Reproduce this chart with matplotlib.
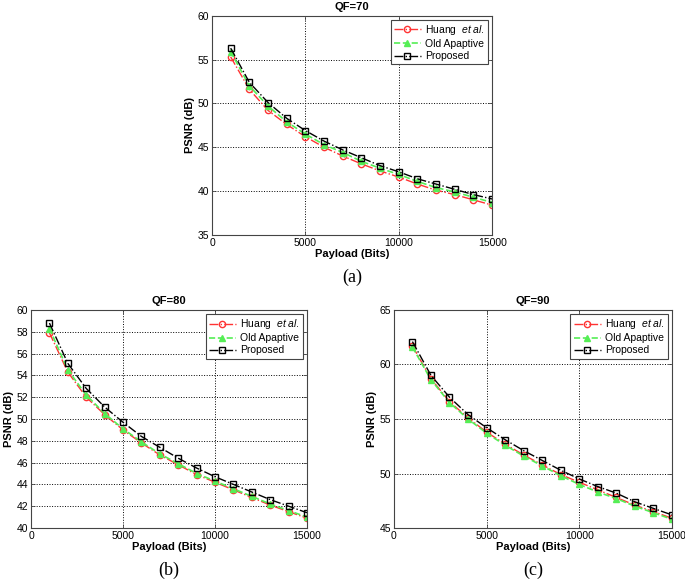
import matplotlib
matplotlib.use("Agg")
import matplotlib.pyplot as plt

plt.rcParams['font.family'] = ['Liberation Sans', 'DejaVu Sans']
plt.rcParams['mathtext.fontset'] = 'custom'
plt.rcParams['mathtext.it'] = 'Liberation Sans:italic'
plt.rcParams['mathtext.rm'] = 'Liberation Sans'

payload = [1000, 2000, 3000, 4000, 5000, 6000, 7000, 8000,
           9000, 10000, 11000, 12000, 13000, 14000, 15000]

# QF=70
huang_70 = [55.3, 51.6, 49.2, 47.6, 46.2, 45.0, 44.0, 43.1, 42.3, 41.6, 40.8, 40.1, 39.6, 39.0, 38.4]
old_70 = [55.9, 52.0, 49.7, 47.9, 46.5, 45.3, 44.4, 43.4, 42.6, 41.9, 41.1, 40.4, 39.9, 39.3, 38.7]
prop_70 = [56.3, 52.4, 50.1, 48.3, 46.9, 45.7, 44.7, 43.8, 42.9, 42.2, 41.4, 40.8, 40.2, 39.6, 39.1]

# QF=80
huang_80 = [57.9, 54.3, 52.0, 50.4, 49.0, 47.8, 46.7, 45.8, 44.9, 44.2, 43.5, 42.8, 42.1, 41.5, 40.9]
old_80 = [58.3, 54.5, 52.2, 50.5, 49.1, 47.9, 46.8, 45.9, 45.0, 44.3, 43.6, 42.9, 42.2, 41.6, 41.0]
prop_80 = [58.8, 55.1, 52.8, 51.1, 49.7, 48.4, 47.4, 46.4, 45.5, 44.7, 44.0, 43.3, 42.6, 42.0, 41.4]

# QF=90
huang_90 = [61.7, 58.7, 56.6, 55.1, 53.8, 52.7, 51.7, 50.8, 49.9, 49.2, 48.5, 47.8, 47.1, 46.5, 45.9]
old_90 = [61.6, 58.6, 56.5, 55.0, 53.7, 52.6, 51.6, 50.7, 49.8, 49.0, 48.3, 47.7, 47.0, 46.4, 45.8]
prop_90 = [62.1, 59.0, 57.0, 55.4, 54.2, 53.1, 52.1, 51.2, 50.3, 49.5, 48.8, 48.2, 47.4, 46.8, 46.2]

x_ticks = [0, 5000, 10000, 15000]


def draw_panel(ax, huang, old, prop, title, yticks, letter):
    ax.plot(payload, huang, color='#ff3333', linestyle='-.', linewidth=1.0,
            marker='o', markersize=4.5, markerfacecolor='none', markeredgewidth=1.0,
            label='Huang  $\\it{et\\ al.}$')
    ax.plot(payload, old, color='#55ee55', linestyle='--', linewidth=1.2,
            marker='^', markersize=4.5, markerfacecolor='#55ee55', markeredgewidth=1.0,
            label='Old Apaptive')
    ax.plot(payload, prop, color='black', linestyle='-.', linewidth=1.0,
            marker='s', markersize=4.5, markerfacecolor='none', markeredgewidth=1.0,
            label='Proposed')
    ax.set_xlim(0, 15000)
    ax.set_ylim(yticks[0], yticks[-1])
    ax.set_xticks(x_ticks)
    ax.set_yticks(yticks)
    ax.grid(True, color='black', linestyle=':', linewidth=0.7)
    ax.tick_params(direction='in', top=True, right=True, labelsize=7.5, length=3,
                   width=0.6, color='#444444', pad=2)
    for s in ax.spines.values():
        s.set_linewidth(0.8)
        s.set_color('#444444')
    ax.set_title(title, fontsize=8, fontweight='bold', pad=4)
    ax.set_xlabel('Payload (Bits)', fontsize=8, fontweight='bold', labelpad=1)
    ax.set_ylabel('PSNR (dB)', fontsize=8, fontweight='bold', labelpad=2)
    leg = ax.legend(loc='upper right', fontsize=7.5, fancybox=False, framealpha=1,
                    edgecolor='#444444', borderaxespad=0.4, handlelength=2.6,
                    borderpad=0.3, labelspacing=0.2, handletextpad=0.4)
    leg.get_frame().set_linewidth(0.8)
    ax.text(0.5, -0.195, letter, transform=ax.transAxes, ha='center', va='center',
            fontsize=13, family='Liberation Serif')


fig = plt.figure(figsize=(6.85, 5.83), dpi=100)
ax_a = fig.add_axes([0.3095, 0.597, 0.409, 0.376])
ax_b = fig.add_axes([0.0453, 0.0943, 0.403, 0.374])
ax_c = fig.add_axes([0.575, 0.0943, 0.406, 0.374])

draw_panel(ax_a, huang_70, old_70, prop_70, 'QF=70', [35, 40, 45, 50, 55, 60], '(a)')
draw_panel(ax_b, huang_80, old_80, prop_80, 'QF=80', [40, 42, 44, 46, 48, 50, 52, 54, 56, 58, 60], '(b)')
draw_panel(ax_c, huang_90, old_90, prop_90, 'QF=90', [45, 50, 55, 60, 65], '(c)')

fig.savefig('out.png', dpi=100)
